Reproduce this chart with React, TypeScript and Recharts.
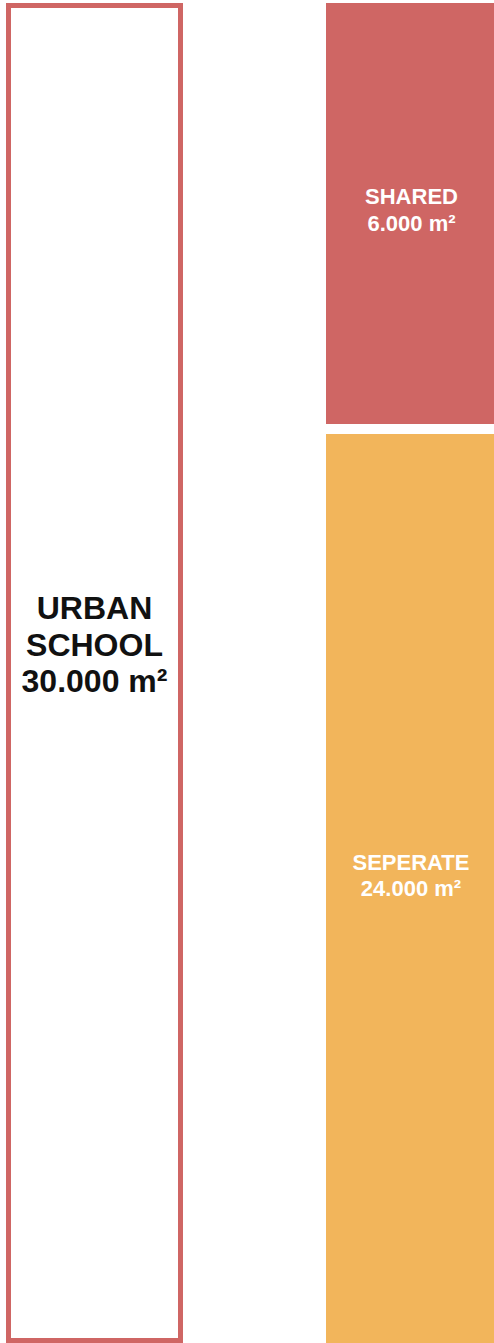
import React from "react";
import { BarChart, Bar, XAxis, YAxis, LabelList, Rectangle } from "recharts";

// Categories and series (bar heights)
const categories = ["URBAN SCHOOL", "SHARED + SEPERATE"];
const totalValues: (number | null)[] = [30000, null];
const separateValues: (number | null)[] = [null, 20575];
const sharedValues: (number | null)[] = [null, 9425];

// Label texts
const totalLabel = ["URBAN", "SCHOOL", "30.000 m²"];
const sharedLabel = ["SHARED", "6.000 m²"];
const separateLabel = ["SEPERATE", "24.000 m²"];

const RED = "#CF6664";
const ORANGE = "#F2B55B";
const FONT = "'Liberation Sans', Arial, Helvetica, sans-serif";

const data = categories.map((name, i) => ({
  name,
  total: totalValues[i],
  separate: separateValues[i],
  shared: sharedValues[i],
}));

const OutlineShape = (props: any) => {
  const { x, y, width, height } = props;
  if (!height || height <= 0) return null;
  const inset = 2.5;
  return (
    <Rectangle
      x={x + inset}
      y={y + inset}
      width={width - inset * 2}
      height={height - inset * 2}
      fill="#ffffff"
      stroke={RED}
      strokeWidth={5}
    />
  );
};

const SeparateShape = (props: any) => {
  const { x, y, width, height } = props;
  if (!height || height <= 0) return null;
  const gap = 10;
  return <Rectangle x={x} y={y + gap} width={width} height={height - gap} fill={ORANGE} />;
};

const SharedShape = (props: any) => {
  const { x, y, width, height } = props;
  if (!height || height <= 0) return null;
  return <Rectangle x={x} y={y} width={width} height={height} fill={RED} />;
};

const makeLabel =
  (lines: string[], color: string, fontSize: number, lineHeight: number, dy: number, dx: number) =>
  (props: any) => {
    const { x, y, width, height, value } = props;
    if (value == null || !height) return null;
    const cx = x + width / 2 + dx;
    const cy = y + height / 2 + dy;
    const start = cy - ((lines.length - 1) * lineHeight) / 2;
    return (
      <text
        x={cx}
        y={start}
        textAnchor="middle"
        dominantBaseline="central"
        fill={color}
        fontFamily={FONT}
        fontWeight={700}
        fontSize={fontSize}
      >
        {lines.map((l, i) => (
          <tspan key={i} x={cx} y={start + i * lineHeight}>
            {l}
          </tspan>
        ))}
      </text>
    );
  };

export default function App() {
  return (
    <div
      style={{
        position: "absolute",
        left: 0,
        top: 0,
        width: 494,
        height: 1343,
        overflow: "hidden",
        background: "#ffffff",
      }}
    >
      <div style={{ position: "absolute", left: -66.5, top: 0 }}>
        <BarChart
          width={640}
          height={1343}
          data={data}
          margin={{ top: 3, right: 0, bottom: 0, left: 0 }}
          barSize={177}
        >
          <XAxis dataKey="name" hide />
          <YAxis hide domain={[0, 30000]} />
          <Bar dataKey="total" stackId="a" shape={OutlineShape} isAnimationActive={false}>
            <LabelList dataKey="total" content={makeLabel(totalLabel, "#111111", 32, 36.5, -28.5, 0)} />
          </Bar>
          <Bar dataKey="separate" stackId="a" shape={SeparateShape} isAnimationActive={false}>
            <LabelList dataKey="separate" content={makeLabel(separateLabel, "#ffffff", 22, 26, -8, -3.5)} />
          </Bar>
          <Bar dataKey="shared" stackId="a" shape={SharedShape} isAnimationActive={false}>
            <LabelList dataKey="shared" content={makeLabel(sharedLabel, "#ffffff", 22, 26.5, -3.75, -3)} />
          </Bar>
        </BarChart>
      </div>
    </div>
  );
}
